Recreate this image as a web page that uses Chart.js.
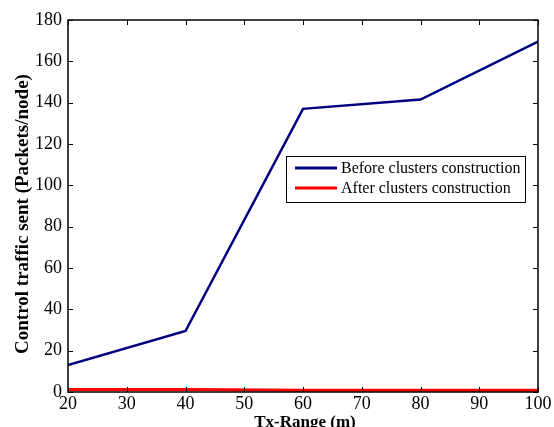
<!DOCTYPE html>
<html>
<head>
<meta charset="utf-8">
<script src="https://cdn.jsdelivr.net/npm/chart.js@4.4.1/dist/chart.umd.min.js"></script>
<style>
  html, body { margin: 0; padding: 0; background: #fff; }
  #wrap { width: 554px; height: 427px; }
</style>
</head>
<body>
<div id="wrap"><canvas id="c" width="554" height="427"></canvas></div>
<script>
// Tx-Range vs control traffic
const txRange = [20, 40, 60, 80, 100];
const beforeClusters = [13, 29.5, 137, 141.5, 169.5];
const afterClusters = [1.2, 1.2, 0.8, 0.8, 0.8];
const xTicks = [20, 30, 40, 50, 60, 70, 80, 90, 100];
const yTicks = [0, 20, 40, 60, 80, 100, 120, 140, 160, 180];

const serif = "'Liberation Serif', 'Times New Roman', serif";

// MATLAB-like box with inward ticks, axis titles and legend in the plot
const boxPlugin = {
  id: "matlabBox",
  afterDraw(chart) {
    const { ctx, chartArea: a, scales } = chart;
    ctx.save();
    ctx.strokeStyle = "#000";
    ctx.lineWidth = 1.5;
    ctx.strokeRect(a.left, a.top, a.right - a.left, a.bottom - a.top);
    ctx.lineWidth = 1;
    ctx.beginPath();
    xTicks.forEach((v) => {
      const px = Math.round(scales.x.getPixelForValue(v)) + 0.5;
      ctx.moveTo(px, a.bottom); ctx.lineTo(px, a.bottom - 5);
      ctx.moveTo(px, a.top); ctx.lineTo(px, a.top + 5);
    });
    yTicks.forEach((v) => {
      const py = Math.round(scales.y.getPixelForValue(v)) + 0.5;
      ctx.moveTo(a.left, py); ctx.lineTo(a.left + 5, py);
      ctx.moveTo(a.right, py); ctx.lineTo(a.right - 5, py);
    });
    ctx.stroke();

    // axis titles (x title is partly cut by the bottom edge, as in the figure)
    ctx.fillStyle = "#000";
    ctx.textAlign = "center";
    ctx.textBaseline = "alphabetic";
    ctx.font = "bold 17px " + serif;
    ctx.fillText("Tx-Range (m)", 305, 427);
    ctx.font = "bold 19px " + serif;
    ctx.translate(28, 214);
    ctx.rotate(-Math.PI / 2);
    ctx.fillText("Control traffic sent (Packets/node)", 0, 0);
    ctx.setTransform(1, 0, 0, 1, 0, 0);

    // legend box
    const lx = 286, ly = 156, lw = 239, lh = 46;
    ctx.fillStyle = "#fff";
    ctx.fillRect(lx, ly, lw, lh);
    ctx.strokeStyle = "#000";
    ctx.lineWidth = 1;
    ctx.strokeRect(lx + 0.5, ly + 0.5, lw, lh);
    chart.data.datasets.forEach((ds, i) => {
      const y = ly + 12 + i * 20;
      ctx.strokeStyle = ds.borderColor;
      ctx.lineWidth = 3;
      ctx.beginPath();
      ctx.moveTo(lx + 9, y); ctx.lineTo(lx + 51, y);
      ctx.stroke();
      ctx.fillStyle = "#000";
      ctx.font = "16px " + serif;
      ctx.textAlign = "left";
      ctx.textBaseline = "middle";
      ctx.fillText(ds.label, lx + 55, y + 1);
    });
    ctx.restore();
  },
};

new Chart(document.getElementById("c"), {
  type: "line",
  data: {
    labels: txRange,
    datasets: [
      { label: "Before clusters construction", data: beforeClusters, borderColor: "#000080", borderWidth: 2.5, pointRadius: 0, tension: 0 },
      { label: "After clusters construction", data: afterClusters, borderColor: "#ff0000", borderWidth: 3, pointRadius: 0, tension: 0 },
    ],
  },
  options: {
    responsive: false,
    animation: false,
    events: [],
    layout: { padding: { left: 0, right: 16, top: 20, bottom: 0 } },
    plugins: { legend: { display: false }, tooltip: { enabled: false } },
    scales: {
      x: {
        type: "linear",
        min: 20,
        max: 100,
        afterBuildTicks: (s) => { s.ticks = xTicks.map((v) => ({ value: v })); },
        afterFit: (s) => { s.height = 35; },
        grid: { display: false, drawTicks: false },
        border: { display: false },
        ticks: { color: "#000", padding: 1, maxRotation: 0, autoSkip: false, font: { family: serif, size: 18 } },
      },
      y: {
        min: 0,
        max: 180,
        afterBuildTicks: (s) => { s.ticks = yTicks.map((v) => ({ value: v })); },
        afterFit: (s) => { s.width = 68; },
        grid: { display: false, drawTicks: false },
        border: { display: false },
        ticks: { color: "#000", padding: 6, autoSkip: false, font: { family: serif, size: 18 } },
      },
    },
  },
  plugins: [boxPlugin],
});
</script>
</body>
</html>
